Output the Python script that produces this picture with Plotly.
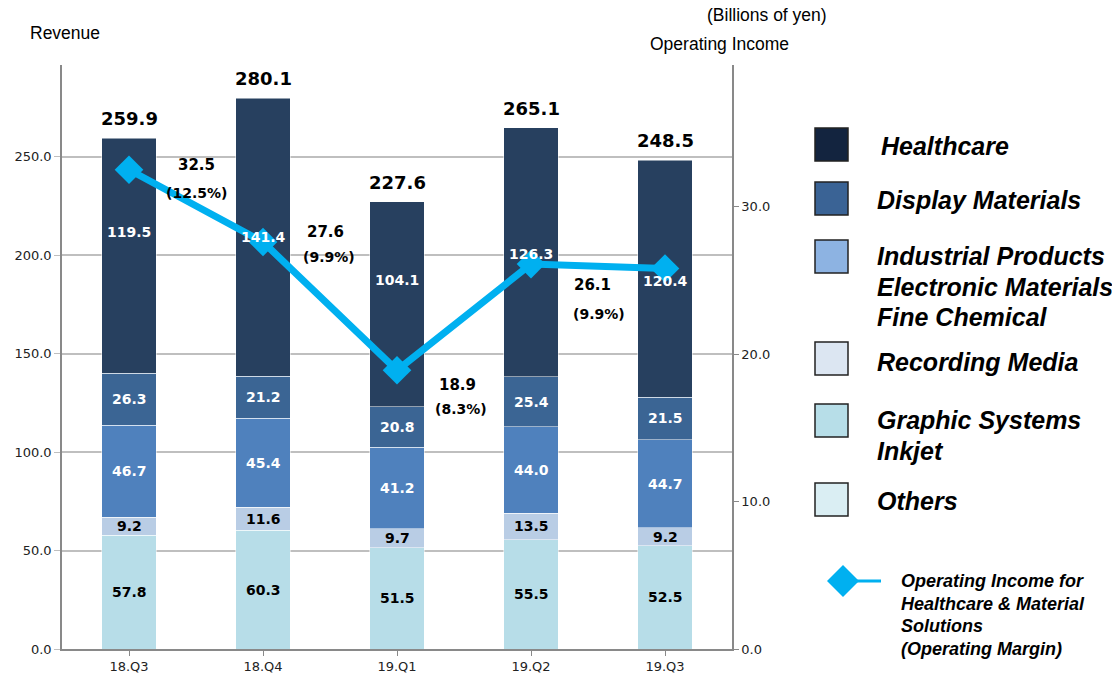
import plotly.graph_objects as go

quarters = ["18.Q3", "18.Q4", "19.Q1", "19.Q2", "19.Q3"]
others = [57.8, 60.3, 51.5, 55.5, 52.5]
recording = [9.2, 11.6, 9.7, 13.5, 9.2]
industrial = [46.7, 45.4, 41.2, 44.0, 44.7]
display = [26.3, 21.2, 20.8, 25.4, 21.5]
healthcare = [119.5, 141.4, 104.1, 126.3, 120.4]
totals = [259.9, 280.1, 227.6, 265.1, 248.5]
op_income = [32.5, 27.6, 18.9, 26.1, 25.8]
op_margin = ["(12.5%)", "(9.9%)", "(8.3%)", "(9.9%)", "(10.4%)"]

# label placement (layout only)
inc_lbl_pos = [(0.50, 32.8), (1.47, 28.3), (2.455, 17.9), (3.46, 24.7), (4.60, 26.2)]
mar_lbl_pos = [(0.50, 30.9), (1.49, 26.6), (2.48, 16.3), (3.51, 22.7), (4.53, 24.7)]
hc_label_shift = [24, 0, 24, -2, -2]

xs = list(range(len(quarters)))
FONT = "Verdana, DejaVu Sans, sans-serif"
ARIAL = "Arial, Liberation Sans, sans-serif"
W, H = 1120, 681
# page is offset by 8px body margin; reference plot area: x 62..732, y 65..649
PL, PR, PT, PB = 62, 732, 65, 649


def px(rx):
    return (rx - PL) / (PR - PL)


def py(ry):
    return (PB - ry) / (PB - PT)


fig = go.Figure()
segments = [
    (others, "#b7dde8", "#000000"),
    (recording, "#b9cde5", "#000000"),
    (industrial, "#4f81bd", "#ffffff"),
    (display, "#3b6594", "#ffffff"),
    (healthcare, "#27405f", "#ffffff"),
]
for vals, col, tcol in segments:
    fig.add_trace(go.Bar(
        x=xs, y=vals, marker=dict(color=col, line=dict(width=0.5, color="#ffffff")),
        width=0.405, showlegend=False, hoverinfo="skip"))

fig.add_trace(go.Scatter(
    x=xs, y=op_income, yaxis="y2", mode="lines+markers",
    line=dict(color="#00b0f0", width=7),
    marker=dict(symbol="diamond", size=22, color="#00b0f0"),
    showlegend=False, hoverinfo="skip"))

ann = []
# segment value labels (drawn above the line, like the reference)
base = [0.0] * len(quarters)
for si, (vals, col, tcol) in enumerate(segments):
    for i, v in enumerate(vals):
        shift = hc_label_shift[i] if vals is healthcare else 0
        ann.append(dict(x=i, y=base[i] + v / 2, xref="x", yref="y", text=f"{v:.1f}",
                        showarrow=False, yshift=shift,
                        font=dict(family=FONT, size=14, color=tcol, weight="bold")))
        base[i] += v

for i, t in enumerate(totals):
    ann.append(dict(x=i, y=t, xref="x", yref="y", text=f"{t:.1f}", showarrow=False,
                    yshift=19, font=dict(family=FONT, size=18, color="#000", weight="bold")))
for i in range(len(quarters)):
    lx, ly = inc_lbl_pos[i]
    ann.append(dict(x=lx, y=ly, xref="x", yref="y2", text=f"{op_income[i]:.1f}", showarrow=False,
                    font=dict(family=FONT, size=15, color="#000", weight="bold")))
    lx, ly = mar_lbl_pos[i]
    ann.append(dict(x=lx, y=ly, xref="x", yref="y2", text=op_margin[i], showarrow=False,
                    font=dict(family=FONT, size=14, color="#000", weight="bold")))

for txt, rx, ry in [("Revenue", 65, 33), ("(Billions of yen)", 767, 15), ("Operating Income", 719, 44)]:
    ann.append(dict(x=px(rx), y=py(ry), xref="paper", yref="paper", text=txt, showarrow=False,
                    xanchor="center", yanchor="middle",
                    font=dict(family=ARIAL, size=17.5, color="#000")))

legend_items = [
    ("#13243f", 128, ["Healthcare"], 146, 879),
    ("#3a6395", 182, ["Display Materials"], 200, 875),
    ("#8db3e2", 240, ["Industrial Products", "Electronic Materials", "Fine Chemical"], 256, 875),
    ("#dce6f2", 342, ["Recording Media"], 362, 875),
    ("#b7dee8", 404, ["Graphic Systems", "Inkjet"], 420, 875),
    ("#daeef3", 483, ["Others"], 501, 875),
]
shapes = []
for col, top, lines, ty, tx in legend_items:
    shapes.append(dict(type="rect", xref="paper", yref="paper",
                       x0=px(815), x1=px(848), y0=py(top + 33), y1=py(top),
                       fillcolor=col, line=dict(color="#222222", width=1.5)))
    for k, ln in enumerate(lines):
        ann.append(dict(x=px(tx), y=py(ty + 30.5 * k), xref="paper", yref="paper",
                        text=f"<b><i>{ln}</i></b>", showarrow=False, xanchor="left", yanchor="middle",
                        font=dict(family=ARIAL, size=25, color="#000")))

# operating income legend
shapes.append(dict(type="line", xref="paper", yref="paper", x0=px(843), x1=px(881),
                   y0=py(581), y1=py(581), line=dict(color="#00b0f0", width=3)))
shapes.append(dict(type="path", xref="paper", yref="paper",
                   path=f"M {px(827)} {py(581)} L {px(843)} {py(565)} L {px(859)} {py(581)} L {px(843)} {py(597)} Z",
                   fillcolor="#00b0f0", line=dict(width=0)))
for k, ln in enumerate(["Operating Income for", "Healthcare & Material", "Solutions", "(Operating Margin)"]):
    ann.append(dict(x=px(899), y=py(581 + 22.5 * k), xref="paper", yref="paper",
                    text=f"<b><i>{ln}</i></b>", showarrow=False, xanchor="left", yanchor="middle",
                    font=dict(family=ARIAL, size=18, color="#000")))

fig.update_layout(
    width=W, height=H, barmode="stack", bargap=0.595,
    plot_bgcolor="#ffffff", paper_bgcolor="#ffffff",
    margin=dict(l=PL - 8, r=W - PR + 8, t=PT - 8, b=H - PB + 8, autoexpand=False),
    xaxis=dict(tickvals=xs, ticktext=quarters, range=[-0.5, 4.5], showline=True,
               linecolor="#898989", linewidth=1.5, ticks="outside", ticklen=5,
               tickcolor="#898989", tickson="boundaries",
               tickfont=dict(family=FONT, size=13, color="#222"), showgrid=False,
               zeroline=False),
    yaxis=dict(range=[0, 296.7], tickvals=[0, 50, 100, 150, 200, 250],
               ticktext=["0.0", "50.0", "100.0", "150.0", "200.0", "250.0"],
               showline=True, linecolor="#898989", linewidth=1.5, ticks="outside",
               ticklen=6, tickcolor="#bfbfbf", showgrid=True, gridcolor="#bfbfbf",
               gridwidth=1.5, zeroline=False,
               tickfont=dict(family=FONT, size=13, color="#222")),
    yaxis2=dict(range=[0, 39.6], overlaying="y", side="right",
                tickvals=[0, 10, 20, 30], ticktext=["0.0", "10.0", "20.0", "30.0"],
                showline=True, linecolor="#898989", linewidth=1.5, ticks="outside",
                ticklen=5, tickcolor="#898989", showgrid=False, zeroline=False,
                tickfont=dict(family=FONT, size=13, color="#222")),
    annotations=ann, shapes=shapes,
)
fig.write_html("out.html")
